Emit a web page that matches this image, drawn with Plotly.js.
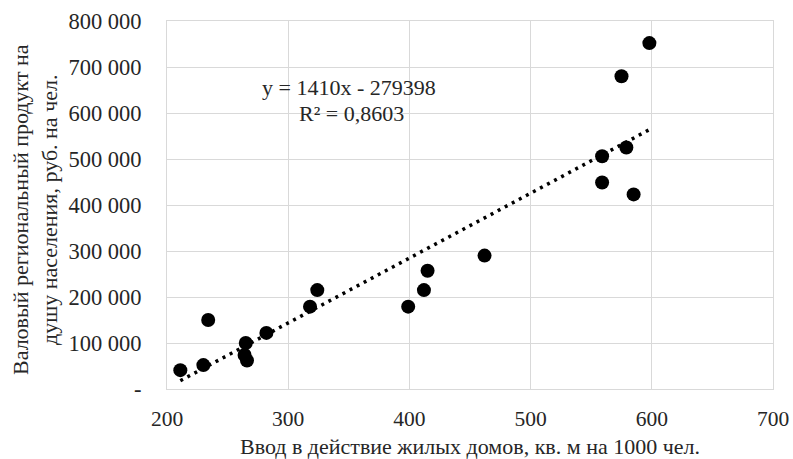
<!DOCTYPE html>
<html>
<head>
<meta charset="utf-8">
<script src="https://cdn.plot.ly/plotly-3.0.1.min.js"></script>
<style>html,body{margin:0;padding:0;background:#fff;}#chart{width:793px;height:459px;}</style>
</head>
<body>
<div id="chart"></div>
<script>
// Data
const housing = [211, 230, 234, 265, 264, 266, 282, 318, 324, 399, 412, 415, 462, 559, 559, 579, 585, 575, 598];
const grp = [41000, 52000, 150000, 100000, 74000, 62000, 122000, 179000, 215000, 179000, 215000, 257000, 290000, 506000, 449000, 525000, 423000, 680000, 752000];
const trendSlope = 1410;
const trendIntercept = -279398;
const trendText = ["y = 1410x - 279398", "R² = 0,8603"];
const xTicks = [200, 300, 400, 500, 600, 700];
const yTickVals = [0, 100000, 200000, 300000, 400000, 500000, 600000, 700000, 800000];
const yTickText = ["-", "100 000", "200 000", "300 000", "400 000", "500 000", "600 000", "700 000", "800 000"];
const xTitle = "Ввод в действие жилых домов, кв. м на 1000 чел.";
const yTitle = "Валовый региональный продукт на<br>душу населения, руб. на чел.";

const xmin = Math.min(...housing), xmax = Math.max(...housing);
const trendX = [xmin, xmax];
const trendY = trendX.map(v => trendSlope * v + trendIntercept);

const font = "Liberation Serif";
const txt = "#262626";
const grid = "#d9d9d9";

const traces = [
  {
    x: trendX, y: trendY, type: "scatter", mode: "lines",
    line: {color: "#000", width: 3.5, dash: "3px,5px"},
    hoverinfo: "skip", showlegend: false
  },
  {
    x: housing, y: grp, type: "scatter", mode: "markers",
    marker: {color: "#000", size: 14},
    showlegend: false
  }
];

const layout = {
  width: 793, height: 459,
  margin: {l: 167, r: 20, t: 21, b: 70},
  paper_bgcolor: "#fff", plot_bgcolor: "#fff",
  font: {family: font, color: txt, size: 22},
  showlegend: false,
  xaxis: {
    range: [200, 700], tickvals: xTicks, ticktext: xTicks.map(String),
    showgrid: true, gridcolor: grid, gridwidth: 1,
    showline: true, linecolor: grid, linewidth: 1, mirror: true,
    zeroline: false,
    ticks: "outside", ticklen: 10, tickcolor: "rgba(0,0,0,0)",
    tickfont: {family: font, size: 21.5, color: txt},
    title: {text: xTitle, font: {family: font, size: 22, color: txt}, standoff: 9},
    automargin: false
  },
  yaxis: {
    range: [0, 800000], tickvals: yTickVals, ticktext: yTickText,
    showgrid: true, gridcolor: grid, gridwidth: 1,
    showline: true, linecolor: grid, linewidth: 1, mirror: true,
    zeroline: false,
    ticks: "outside", ticklen: 20, tickcolor: "rgba(0,0,0,0)",
    tickfont: {family: font, size: 22.5, color: txt},
    automargin: false
  },
  annotations: [
    {xref: "paper", yref: "paper", x: (35 - 167) / 606, y: (389 - 210) / 368, text: yTitle, textangle: -90,
     showarrow: false, font: {family: font, size: 22, color: txt}, xanchor: "center", yanchor: "middle"},
    {xref: "paper", yref: "paper", x: (349 - 167) / 606, y: (389 - 88) / 368, text: trendText[0],
     showarrow: false, font: {family: font, size: 22, color: txt}, xanchor: "center", yanchor: "middle"},
    {xref: "paper", yref: "paper", x: (351 - 167) / 606, y: (389 - 113) / 368, text: trendText[1],
     showarrow: false, font: {family: font, size: 22, color: txt}, xanchor: "center", yanchor: "middle"}
  ]
};

Plotly.newPlot("chart", traces, layout, {displayModeBar: false, staticPlot: true});
</script>
</body>
</html>
